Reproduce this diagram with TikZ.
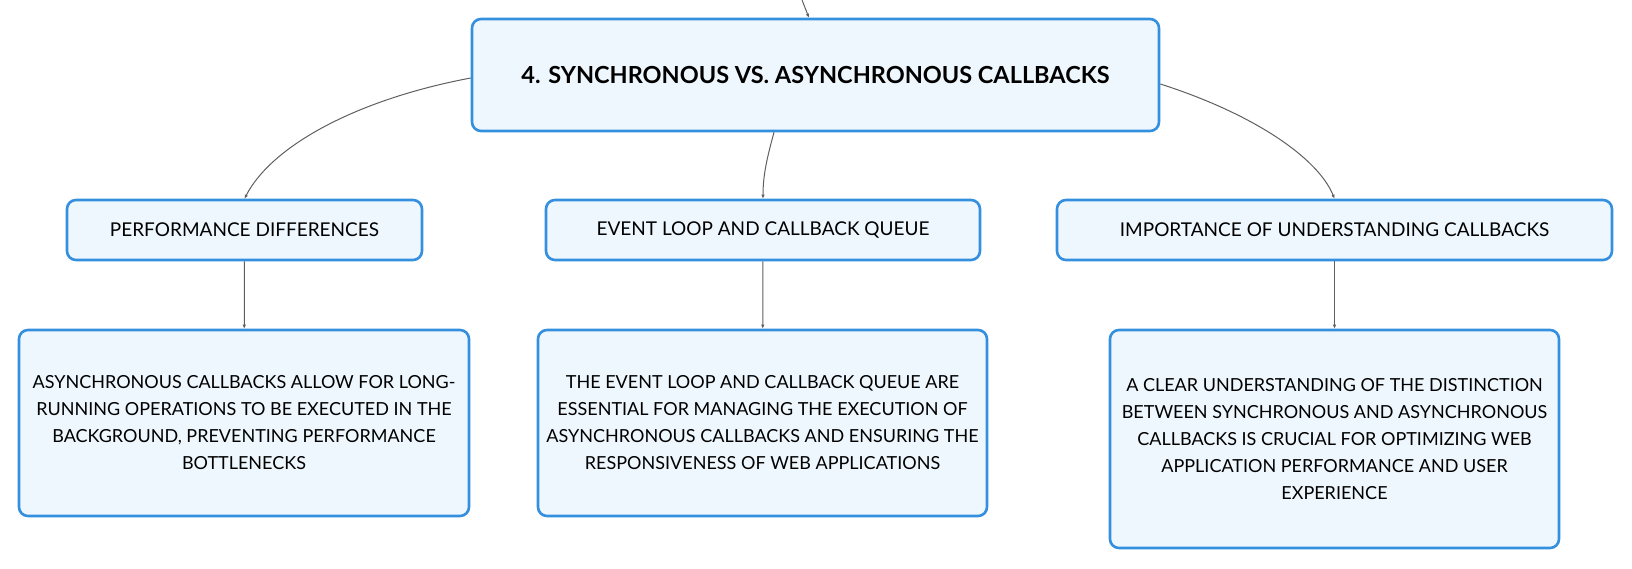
\documentclass[tikz,border=0pt]{standalone}
\usepackage{fontspec}
\setmainfont{Lato}
\usepackage{tikz}
\usetikzlibrary{arrows.meta}
\usetikzlibrary{shapes}
\definecolor{boxblue}{RGB}{52,144,222}
\definecolor{boxfill}{RGB}{239,247,254}
\definecolor{linkgray}{RGB}{95,95,95}

\begin{document}
\begin{tikzpicture}[x=1pt,y=-1pt,
    box/.style={draw=boxblue, fill=boxfill, line width=2.6pt, rounded corners=9pt, align=center, inner sep=0pt},
    topic/.style={box, font=\bfseries\fontsize{23.5}{28}\selectfont},
    sub/.style={box, minimum height=60pt, font=\fontsize{19}{24}\selectfont},
    leaf/.style={box, font=\fontsize{18}{27}\selectfont},
    link/.style={draw=linkgray, line width=1pt, -{Latex[length=4pt,width=3.5pt]}}] %[scale=0.8]
    \useasboundingbox (0,0) rectangle (1632,569);
    \coordinate (up) at (802,0);
    \node [topic, minimum width=687pt, minimum height=112pt] (main) at (815.5,75) {4. SYNCHRONOUS VS. ASYNCHRONOUS CALLBACKS};
    \node [sub, minimum width=355pt] (perf) at (244.5,230) {PERFORMANCE DIFFERENCES};
    \node [sub, minimum width=434pt] (loop) at (763,230) {EVENT LOOP AND CALLBACK QUEUE};
    \node [sub, minimum width=555pt] (imp) at (1334.5,230) {IMPORTANCE OF UNDERSTANDING CALLBACKS};
    \node [leaf, minimum width=450pt, minimum height=186pt] (perfleaf) at (244,423) {ASYNCHRONOUS CALLBACKS ALLOW FOR LONG-\\RUNNING OPERATIONS TO BE EXECUTED IN THE\\BACKGROUND, PREVENTING PERFORMANCE\\BOTTLENECKS};
    \node [leaf, minimum width=449pt, minimum height=186pt] (loopleaf) at (762.5,423) {THE EVENT LOOP AND CALLBACK QUEUE ARE\\ESSENTIAL FOR MANAGING THE EXECUTION OF\\ASYNCHRONOUS CALLBACKS AND ENSURING THE\\RESPONSIVENESS OF WEB APPLICATIONS};
    \node [leaf, minimum width=449pt, minimum height=218pt] (impleaf) at (1334.5,439) {A CLEAR UNDERSTANDING OF THE DISTINCTION\\BETWEEN SYNCHRONOUS AND ASYNCHRONOUS\\CALLBACKS IS CRUCIAL FOR OPTIMIZING WEB\\APPLICATION PERFORMANCE AND USER\\EXPERIENCE};
    \draw [link] (up) .. controls (805,8) .. ([xshift=-6.5pt]main.north);
    \draw [link] ([yshift=-3pt]main.west) .. controls (354,100) and (271,147) .. (perf.north);
    \draw [link] ([xshift=-41.5pt]main.south) .. controls (767,158) and (763,175) .. (loop.north);
    \draw [link] ([yshift=-9pt]main.east) .. controls (1254,114) and (1318,158) .. (imp.north);
    \draw [link] (perf) -- (perfleaf);
    \draw [link] (loop) -- (loopleaf);
    \draw [link] (imp) -- (impleaf);
  \end{tikzpicture}
\end{document}
